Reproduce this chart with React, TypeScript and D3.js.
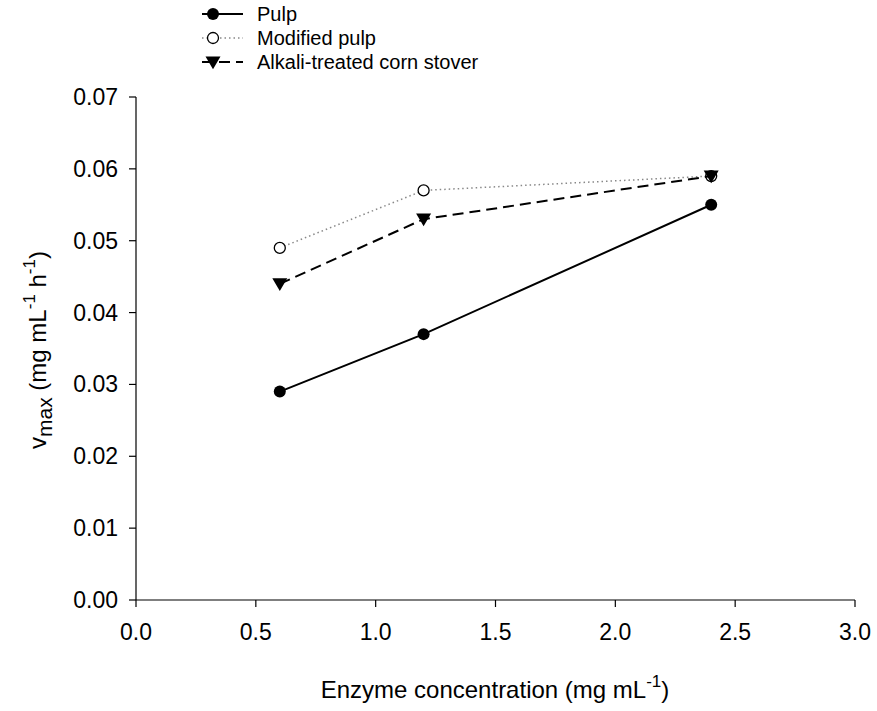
import React from "react";
import * as d3 from "d3";

const enzymeConc = [0.6, 1.2, 2.4];
const pulp = [0.029, 0.037, 0.055];
const modifiedPulp = [0.049, 0.057, 0.059];
const alkaliStover = [0.044, 0.053, 0.059];
const xTicks = [0, 0.5, 1.0, 1.5, 2.0, 2.5, 3.0];
const yTicks = [0, 0.01, 0.02, 0.03, 0.04, 0.05, 0.06, 0.07];
const seriesNames = ["Pulp", "Modified pulp", "Alkali-treated corn stover"];

const W = 877, H = 711;
const FONT = "Liberation Sans, Arial, Helvetica, sans-serif";

export default function App() {
  const x = d3.scaleLinear().domain([0, 3]).range([136, 855]);
  const y = d3.scaleLinear().domain([0, 0.07]).range([600, 97]);
  const line = d3.line<[number, number]>().x(d => x(d[0])).y(d => y(d[1]));
  const mk = (vals: number[]) => enzymeConc.map((c, i) => [c, vals[i]] as [number, number]);

  const tri = (cx: number, cy: number, s = 7.5) =>
    `M${cx - s},${cy - s * 0.75}L${cx + s},${cy - s * 0.75}L${cx},${cy + s * 0.95}Z`;

  const series = [
    { name: seriesNames[0], data: mk(pulp), dash: undefined, width: 2, stroke: "#000", marker: "filled" },
    { name: seriesNames[1], data: mk(modifiedPulp), dash: "1.5,3", width: 1.5, stroke: "#888", marker: "open" },
    { name: seriesNames[2], data: mk(alkaliStover), dash: "11,6", width: 2, stroke: "#000", marker: "tri" },
  ];

  const drawMarker = (type: string, cx: number, cy: number, key: string) => {
    if (type === "filled") return <circle key={key} cx={cx} cy={cy} r={6} fill="#000" />;
    if (type === "open") return <circle key={key} cx={cx} cy={cy} r={5.5} fill="#fff" stroke="#000" strokeWidth={1.3} />;
    return <path key={key} d={tri(cx, cy)} fill="#000" />;
  };

  const legendY = [14, 38, 62];

  return (
    <svg width={W} height={H} style={{ position: "absolute", left: 0, top: 0, background: "#fff" }} fontFamily={FONT}>
      <rect width={W} height={H} fill="#fff" />
      {/* axes */}
      <line x1={136} x2={136} y1={97} y2={600} stroke="#000" strokeWidth={1.2} />
      <line x1={136} x2={855} y1={600} y2={600} stroke="#000" strokeWidth={1.2} />
      {yTicks.map(t => (
        <g key={"y" + t}>
          <line x1={129} x2={136} y1={y(t)} y2={y(t)} stroke="#000" strokeWidth={1.2} />
          <text x={118} y={y(t)} dy="0.35em" textAnchor="end" fontSize={23}>{t.toFixed(2)}</text>
        </g>
      ))}
      {xTicks.map(t => (
        <g key={"x" + t}>
          <line x1={x(t)} x2={x(t)} y1={600} y2={607} stroke="#000" strokeWidth={1.2} />
          <text x={x(t)} y={640} textAnchor="middle" fontSize={23}>{t.toFixed(1)}</text>
        </g>
      ))}
      {/* axis titles */}
      <text x={495} y={698} textAnchor="middle" fontSize={24}>
        Enzyme concentration (mg mL<tspan dy={-11} fontSize={17}>-1</tspan><tspan dy={11}>)</tspan>
      </text>
      <text transform="translate(46,350) rotate(-90)" textAnchor="middle" fontSize={24}>
        v<tspan dy={6} fontSize={21}>max</tspan><tspan dy={-6}> (mg mL</tspan>
        <tspan dy={-11} fontSize={17}>-1</tspan><tspan dy={11}> h</tspan>
        <tspan dy={-11} fontSize={17}>-1</tspan><tspan dy={11}>)</tspan>
      </text>
      {/* series */}
      {series.map((s) => (
        <g key={s.name}>
          <path d={line(s.data) || ""} fill="none" stroke={s.stroke} strokeWidth={s.width} strokeDasharray={s.dash} />
          {s.data.map((d, i) => drawMarker(s.marker, x(d[0]), y(d[1]), s.name + i))}
        </g>
      ))}
      {/* legend */}
      {series.map((s, i) => (
        <g key={"lg" + i}>
          <line x1={202} x2={243} y1={legendY[i]} y2={legendY[i]} stroke={s.stroke} strokeWidth={s.width} strokeDasharray={s.dash} />
          {drawMarker(s.marker, 213, legendY[i], "lm" + i)}
          <text x={257} y={legendY[i]} dy="0.35em" fontSize={20}>{s.name}</text>
        </g>
      ))}
    </svg>
  );
}
